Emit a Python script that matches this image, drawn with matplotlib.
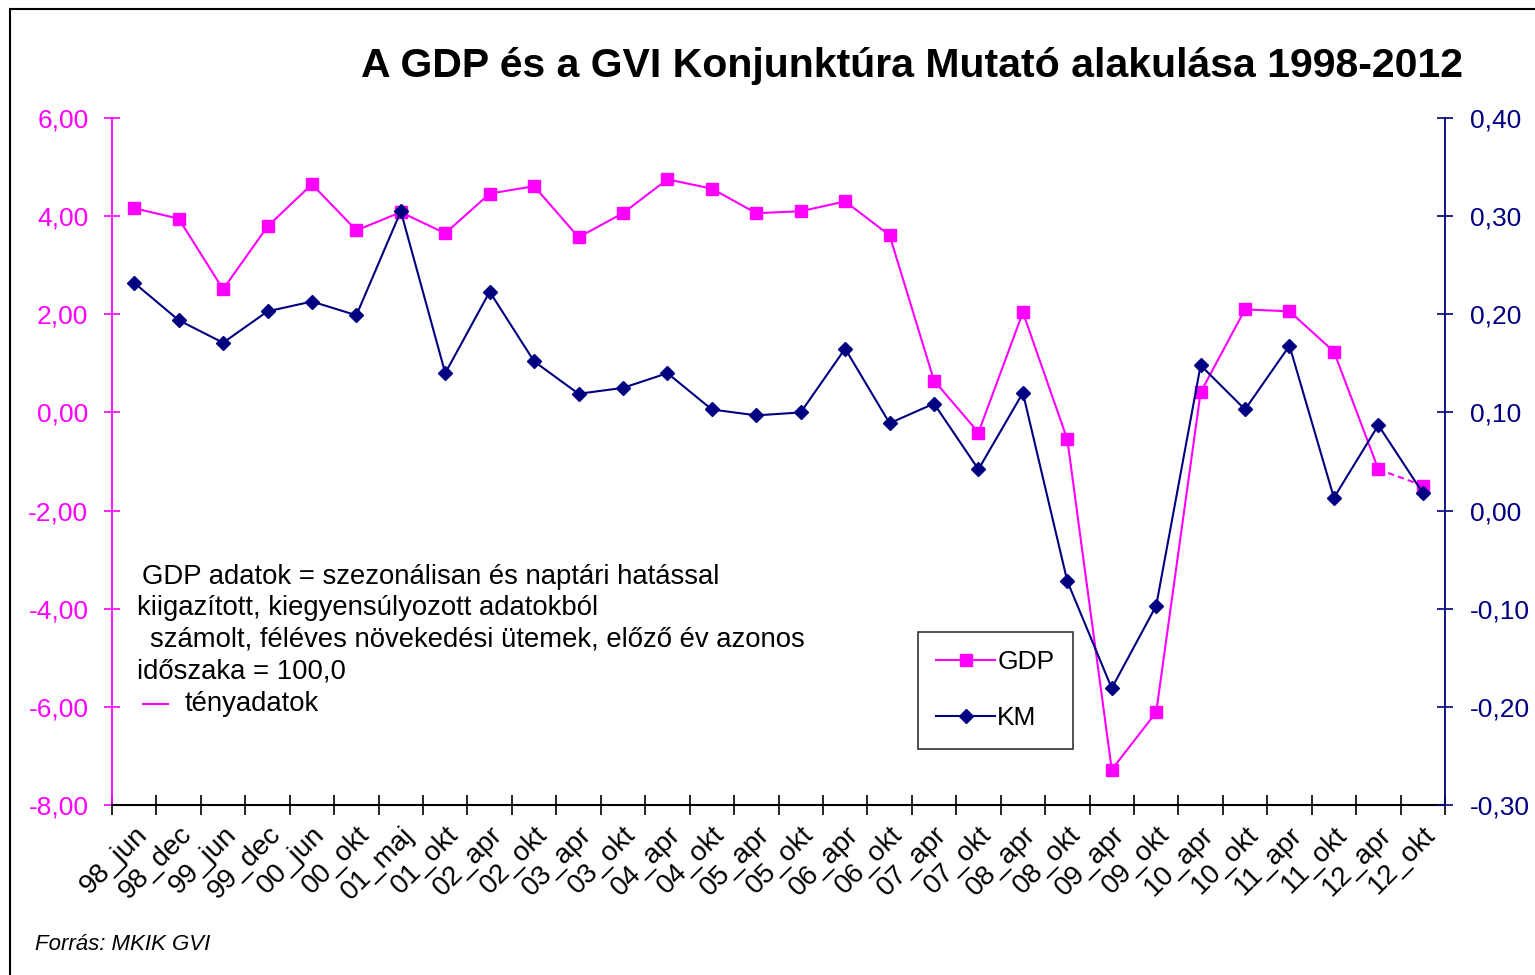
import matplotlib
matplotlib.use('Agg')
import matplotlib.pyplot as plt
from matplotlib.patches import Rectangle
from matplotlib.ticker import FuncFormatter, MultipleLocator

# ----------------------------------------------------------------------
# DATA
# ----------------------------------------------------------------------
periods = ['98_jun', '98_dec', '99_jun', '99_dec', '00_jun', '00_okt', '01_maj', '01_okt',
           '02_apr', '02_okt', '03_apr', '03_okt', '04_apr', '04_okt', '05_apr', '05_okt',
           '06_apr', '06_okt', '07_apr', '07_okt', '08_apr', '08_okt', '09_apr', '09_okt',
           '10_apr', '10_okt', '11_apr', '11_okt', '12_apr', '12_okt']
gdp = [4.16, 3.95, 2.51, 3.79, 4.65, 3.71, 4.08, 3.65, 4.46, 4.61, 3.57, 4.06, 4.75, 4.56,
       4.06, 4.10, 4.30, 3.61, 0.65, -0.41, 2.04, -0.55, -7.28, -6.11, 0.41, 2.10, 2.06,
       1.24, -1.16, -1.49]
km = [0.232, 0.194, 0.171, 0.203, 0.213, 0.199, 0.305, 0.140, 0.223, 0.152, 0.119, 0.125,
      0.140, 0.103, 0.097, 0.100, 0.165, 0.089, 0.109, 0.042, 0.120, -0.072, -0.181, -0.097,
      0.148, 0.103, 0.168, 0.013, 0.087, 0.018]

GDP_COLOR = '#FF00FF'
KM_COLOR = '#000080'
W, H = 1535, 975

plt.rcParams['font.family'] = ['Liberation Sans', 'DejaVu Sans']
plt.rcParams['axes.unicode_minus'] = False


def comma(v, _pos):
    return f'{v:.2f}'.replace('.', ',')


fig = plt.figure(figsize=(W / 100, H / 100), dpi=100)
ax = fig.add_axes([112 / W, 1 - 805 / H, (1445 - 112) / W, (805 - 118) / H])
ax2 = ax.twinx()

x = list(range(len(periods)))

# GDP: solid for actual data, dashed last segment
ax.plot(x[:-1], gdp[:-1], color=GDP_COLOR, lw=1.5, marker='s', ms=8.5,
        mec=GDP_COLOR, mfc=GDP_COLOR, label='GDP', zorder=3)
ax.plot(x[-2:], gdp[-2:], color=GDP_COLOR, lw=1.5, ls=(0, (3, 2)), zorder=3)
ax.plot(x[-1:], gdp[-1:], color=GDP_COLOR, ls='none', marker='s', ms=8.5, zorder=3)

ax2.plot(x, km, color=KM_COLOR, lw=1.5, marker='D', ms=7, label='KM', zorder=4)

ax.set_xlim(-0.5, len(periods) - 0.5)
ax.set_ylim(-8, 6)
ax2.set_ylim(-0.3, 0.4)
ax.yaxis.set_major_locator(MultipleLocator(2))
ax2.yaxis.set_major_locator(MultipleLocator(0.1))
ax.yaxis.set_major_formatter(FuncFormatter(comma))
ax2.yaxis.set_major_formatter(FuncFormatter(comma))

# category labels centred, tick marks on boundaries
ax.set_xticks(x)
ax.set_xticklabels(periods, rotation=45, ha='right', rotation_mode='anchor', fontsize=20)
ax.tick_params(axis='x', which='major', length=0, pad=12)
ax.set_xticks([i - 0.5 for i in range(len(periods) + 1)], minor=True)
ax.tick_params(axis='x', which='minor', direction='inout', length=14, width=1.2, color='black')

ax.tick_params(axis='y', direction='inout', length=12, width=1.2, colors=GDP_COLOR,
               labelsize=19, pad=11)
ax2.tick_params(axis='y', direction='inout', length=12, width=1.2, colors=KM_COLOR,
                labelsize=19, pad=12)

for a in (ax, ax2):
    a.spines['top'].set_visible(False)
ax.spines['right'].set_visible(False)
ax2.spines['left'].set_visible(False)
ax2.spines['bottom'].set_visible(False)
ax.spines['left'].set_color(GDP_COLOR)
ax.spines['left'].set_linewidth(1.3)
ax2.spines['right'].set_color(KM_COLOR)
ax2.spines['right'].set_linewidth(1.3)
ax.spines['bottom'].set_color('black')
ax.spines['bottom'].set_linewidth(1.5)

# legend
h1, l1 = ax.get_legend_handles_labels()
h2, l2 = ax2.get_legend_handles_labels()
leg = ax2.legend(h1 + h2, l1 + l2, loc='upper left',
                 bbox_to_anchor=((918 - 112) / (1445 - 112), 1 - (632 - 118) / (805 - 118)),
                 fontsize=19, frameon=True, fancybox=False, edgecolor='black',
                 handlelength=2.2, handletextpad=0.1, labelspacing=1.2,
                 borderpad=0.7, borderaxespad=0)
leg.get_frame().set_linewidth(1.2)

# title and notes
fig.text(912 / W, 1 - 66 / H, 'A GDP és a GVI Konjunktúra Mutató alakulása 1998-2012',
         ha='center', va='center', fontsize=29.5, fontweight='bold')

notes = [
    (142, 577, 'GDP adatok = szezonálisan és naptári hatással'),
    (137, 608, 'kiigazított, kiegyensúlyozott adatokból'),
    (150, 640, 'számolt, féléves növekedési ütemek, előző év azonos'),
    (137, 671, 'időszaka = 100,0'),
    (185, 704, 'tényadatok'),
]
for px, py, txt in notes:
    fig.text(px / W, 1 - py / H, txt, ha='left', va='center', fontsize=19.8)
fig.lines.append(plt.Line2D([143 / W, 168 / W], [1 - 704 / H, 1 - 704 / H],
                            transform=fig.transFigure, color=GDP_COLOR, lw=1.5))

fig.text(35 / W, 1 - 944 / H, 'Forrás: MKIK GVI', ha='left', va='center',
         fontsize=16, style='italic')

# outer frame of the chart area
fig.patches.append(Rectangle((10 / W, -0.05), 1.2, 1 - 9 / H + 0.05,
                             transform=fig.transFigure, fill=False,
                             edgecolor='black', lw=1.5))

fig.savefig('out.png', dpi=100)
